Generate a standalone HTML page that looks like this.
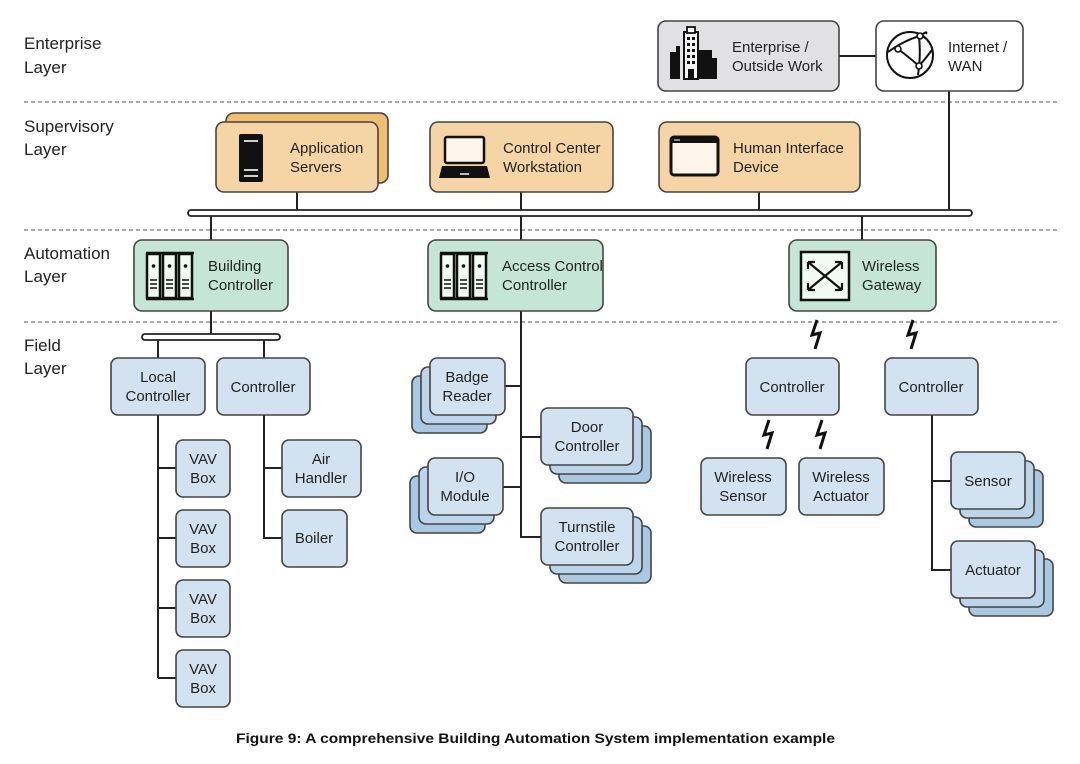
<!DOCTYPE html>
<html><head><meta charset="utf-8"><style>
html,body{margin:0;padding:0;background:#fff;}
svg{display:block;font-family:"Liberation Sans",Arial,sans-serif;}
</style></head><body>
<svg width="1080" height="764" viewBox="0 0 1080 764" xmlns="http://www.w3.org/2000/svg">
<defs>
<g id="rack">
  <g fill="#f2faf6" stroke="#111" stroke-width="2.5">
    <rect x="1" y="2" width="13" height="44"/>
    <rect x="17" y="2" width="13" height="44"/>
    <rect x="33" y="2" width="13" height="44"/>
  </g>
  <g stroke="#111" stroke-width="2.5"><line x1="0" y1="1" x2="48" y2="1"/><line x1="0" y1="47" x2="48" y2="47"/></g>
  <g fill="#111"><circle cx="7.5" cy="14" r="1.8"/><circle cx="23.5" cy="14" r="1.8"/><circle cx="39.5" cy="14" r="1.8"/></g>
  <g stroke="#111" stroke-width="1.5">
    <line x1="4" y1="28" x2="11" y2="28"/><line x1="4" y1="32" x2="11" y2="32"/><line x1="4" y1="36" x2="11" y2="36"/>
    <line x1="20" y1="28" x2="27" y2="28"/><line x1="20" y1="32" x2="27" y2="32"/><line x1="20" y1="36" x2="27" y2="36"/>
    <line x1="36" y1="28" x2="43" y2="28"/><line x1="36" y1="32" x2="43" y2="32"/><line x1="36" y1="36" x2="43" y2="36"/>
  </g>
</g>
<path id="bolt" d="M5 0 L0 15 L8 13 L3 29" fill="none" stroke="#111" stroke-width="3"/>
</defs>

<g font-size="17" fill="#222">
<text x="24" y="49">Enterprise</text><text x="24" y="73">Layer</text>
<text x="24" y="132">Supervisory</text><text x="24" y="155">Layer</text>
<text x="24" y="259">Automation</text><text x="24" y="282">Layer</text>
<text x="24" y="351">Field</text><text x="24" y="374">Layer</text>
</g>
<g stroke="#777" stroke-width="1.3" stroke-dasharray="4,3">
<line x1="24" y1="102" x2="1058" y2="102"/>
<line x1="24" y1="230" x2="1058" y2="230"/>
<line x1="24" y1="322" x2="1058" y2="322"/>
</g>

<g stroke="#222" stroke-width="2" fill="none">
<line x1="839" y1="56" x2="876" y2="56"/>
<line x1="949" y1="91" x2="949" y2="211"/>
<line x1="297" y1="192" x2="297" y2="211"/>
<line x1="521" y1="192" x2="521" y2="211"/>
<line x1="759" y1="192" x2="759" y2="211"/>
<line x1="211" y1="216" x2="211" y2="240"/>
<line x1="521" y1="216" x2="521" y2="240"/>
<line x1="862" y1="216" x2="862" y2="240"/>
<line x1="211" y1="311" x2="211" y2="335"/>
<line x1="158" y1="340" x2="158" y2="358"/>
<line x1="264" y1="340" x2="264" y2="358"/>
<path d="M158 415 V678 M158 468 H176 M158 538 H176 M158 608 H176 M158 678 H176"/>
<path d="M264 415 V538 H282 M264 468 H282"/>
<path d="M521 311 V537 H541 M505 386 H521 M521 437 H541 M503 487 H521"/>
<path d="M932 415 V570 H951 M932 481 H951"/>
</g>
<rect x="188" y="210" width="784" height="6" rx="3" fill="#fff" stroke="#222" stroke-width="1.8"/>
<rect x="142" y="334" width="138" height="6" rx="3" fill="#fff" stroke="#222" stroke-width="1.8"/>

<g stroke="#444" stroke-width="1.6">
<rect x="658" y="21" width="181" height="70" rx="8" fill="#e1e1e3"/>
<rect x="876" y="21" width="147" height="70" rx="8" fill="#fff"/>
<rect x="226" y="113" width="162" height="70" rx="8" fill="#f0c070"/>
<rect x="216" y="122" width="162" height="70" rx="8" fill="#f5d5a5"/>
<rect x="430" y="122" width="183" height="70" rx="8" fill="#f5d5a5"/>
<rect x="659" y="122" width="201" height="70" rx="8" fill="#f5d5a5"/>
<rect x="134" y="240" width="154" height="71" rx="8" fill="#c5e6d6"/>
<rect x="428" y="240" width="175" height="71" rx="8" fill="#c5e6d6"/>
<rect x="789" y="240" width="147" height="71" rx="8" fill="#c5e6d6"/>
<g fill="#d3e2f0">
<rect x="111" y="358" width="94" height="57" rx="7"/>
<rect x="217" y="358" width="93" height="57" rx="7"/>
<rect x="176" y="440" width="54" height="57" rx="7"/>
<rect x="176" y="510" width="54" height="57" rx="7"/>
<rect x="176" y="580" width="54" height="57" rx="7"/>
<rect x="176" y="650" width="54" height="57" rx="7"/>
<rect x="282" y="440" width="79" height="57" rx="7"/>
<rect x="282" y="510" width="65" height="57" rx="7"/>
</g>
<rect x="412" y="376" width="75" height="57" rx="7" fill="#a9c8e2"/>
<rect x="421" y="367" width="75" height="57" rx="7" fill="#bcd5ea"/>
<rect x="430" y="358" width="75" height="57" rx="7" fill="#d3e2f0"/>
<rect x="410" y="476" width="75" height="57" rx="7" fill="#a9c8e2"/>
<rect x="419" y="467" width="75" height="57" rx="7" fill="#bcd5ea"/>
<rect x="428" y="458" width="75" height="57" rx="7" fill="#d3e2f0"/>
<rect x="559" y="426" width="92" height="57" rx="7" fill="#a9c8e2"/>
<rect x="550" y="417" width="92" height="57" rx="7" fill="#bcd5ea"/>
<rect x="541" y="408" width="92" height="57" rx="7" fill="#d3e2f0"/>
<rect x="559" y="526" width="92" height="57" rx="7" fill="#a9c8e2"/>
<rect x="550" y="517" width="92" height="57" rx="7" fill="#bcd5ea"/>
<rect x="541" y="508" width="92" height="57" rx="7" fill="#d3e2f0"/>
<rect x="969" y="470" width="74" height="57" rx="7" fill="#a9c8e2"/>
<rect x="960" y="461" width="74" height="57" rx="7" fill="#bcd5ea"/>
<rect x="951" y="452" width="74" height="57" rx="7" fill="#d3e2f0"/>
<rect x="969" y="559" width="84" height="57" rx="7" fill="#a9c8e2"/>
<rect x="960" y="550" width="84" height="57" rx="7" fill="#bcd5ea"/>
<rect x="951" y="541" width="84" height="57" rx="7" fill="#d3e2f0"/>
<g fill="#d3e2f0">
<rect x="746" y="358" width="93" height="57" rx="7"/>
<rect x="885" y="358" width="93" height="57" rx="7"/>
<rect x="701" y="458" width="85" height="57" rx="7"/>
<rect x="799" y="458" width="85" height="57" rx="7"/>
</g>
</g>

<use href="#bolt" x="812" y="320"/>
<use href="#bolt" x="908" y="320"/>
<use href="#bolt" x="764" y="420"/>
<use href="#bolt" x="817" y="420"/>

<g fill="#111">
<rect x="670" y="52" width="10" height="27"/><rect x="676" y="46" width="4" height="8"/>
<rect x="698" y="50" width="14" height="29"/><rect x="712" y="58" width="5" height="21"/>
<rect x="684" y="32" width="14" height="47" fill="#f5f5f5" stroke="#111" stroke-width="2"/>
<rect x="687" y="27" width="8" height="6" fill="#f5f5f5" stroke="#111" stroke-width="1.8"/>
<g><rect x="687" y="37" width="3" height="3"/><rect x="692" y="37" width="3" height="3"/><rect x="687" y="43" width="3" height="3"/><rect x="692" y="43" width="3" height="3"/><rect x="687" y="49" width="3" height="3"/><rect x="692" y="49" width="3" height="3"/><rect x="687" y="55" width="3" height="3"/><rect x="692" y="55" width="3" height="3"/><rect x="687" y="61" width="3" height="3"/><rect x="692" y="61" width="3" height="3"/><rect x="688" y="69" width="6" height="10"/></g>
</g>
<g fill="none" stroke="#111" stroke-width="2">
<circle cx="910" cy="55" r="23"/>
<path d="M888 52 Q905 40 920 36 M919 36 Q921 55 918 75 M898 49 Q910 58 919 66 M919 66 Q926 58 932 50 M920 36 Q928 30 926 34"/>
</g>
<g fill="#fff" stroke="#111" stroke-width="1.6"><circle cx="920" cy="36" r="3"/><circle cx="898" cy="49" r="3"/><circle cx="919" cy="66" r="3"/></g>
<rect x="239" y="134" width="24" height="48" rx="2" fill="#111"/>
<g stroke="#fff" stroke-width="1.6"><line x1="244" y1="141" x2="258" y2="141"/><line x1="244" y1="170" x2="258" y2="170"/><line x1="244" y1="176" x2="258" y2="176"/></g>
<rect x="445" y="137" width="39" height="26" rx="2" fill="#fdf5ea" stroke="#111" stroke-width="2.5"/>
<path d="M442 166 H487 L490 178 H439 Z" fill="#111"/>
<line x1="460" y1="174" x2="469" y2="174" stroke="#fff" stroke-width="1.4"/>
<rect x="671" y="137" width="47" height="38" rx="3" fill="#fdf5ea" stroke="#111" stroke-width="3"/>
<rect x="671" y="137" width="47" height="6" fill="#111"/>
<line x1="674" y1="140" x2="680" y2="140" stroke="#fff" stroke-width="1"/>
<use href="#rack" x="146" y="252"/>
<use href="#rack" x="440" y="252"/>
<rect x="801" y="252" width="48" height="48" fill="#f2faf6" stroke="#111" stroke-width="2.5"/>
<g fill="none" stroke="#111" stroke-width="2.2">
<path d="M808 262 Q825 276 842 290 M842 262 Q825 276 808 290"/>
<path d="M808 262 h7 M808 262 v7 M842 262 h-7 M842 262 v7 M808 290 h7 M808 290 v-7 M842 290 h-7 M842 290 v-7"/>
</g>

<g font-size="15" fill="#222">
<text x="732" y="52">Enterprise /</text><text x="732" y="71">Outside Work</text>
<text x="948" y="52">Internet /</text><text x="948" y="71">WAN</text>
<text x="290" y="153">Application</text><text x="290" y="172">Servers</text>
<text x="503" y="153">Control Center</text><text x="503" y="172">Workstation</text>
<text x="733" y="153">Human Interface</text><text x="733" y="172">Device</text>
<text x="208" y="271">Building</text><text x="208" y="290">Controller</text>
<text x="502" y="271">Access Control</text><text x="502" y="290">Controller</text>
<text x="862" y="271">Wireless</text><text x="862" y="290">Gateway</text>
</g>
<g font-size="15" fill="#222" text-anchor="middle">
<text x="158" y="382">Local</text><text x="158" y="401">Controller</text>
<text x="263" y="392">Controller</text>
<text x="203" y="464">VAV</text><text x="203" y="483">Box</text>
<text x="203" y="534">VAV</text><text x="203" y="553">Box</text>
<text x="203" y="604">VAV</text><text x="203" y="623">Box</text>
<text x="203" y="674">VAV</text><text x="203" y="693">Box</text>
<text x="321" y="464">Air</text><text x="321" y="483">Handler</text>
<text x="314" y="543">Boiler</text>
<text x="467" y="382">Badge</text><text x="467" y="401">Reader</text>
<text x="465" y="482">I/O</text><text x="465" y="501">Module</text>
<text x="587" y="432">Door</text><text x="587" y="451">Controller</text>
<text x="587" y="532">Turnstile</text><text x="587" y="551">Controller</text>
<text x="792" y="392">Controller</text>
<text x="931" y="392">Controller</text>
<text x="743" y="482">Wireless</text><text x="743" y="501">Sensor</text>
<text x="841" y="482">Wireless</text><text x="841" y="501">Actuator</text>
<text x="988" y="486">Sensor</text>
<text x="993" y="575">Actuator</text>
</g>

<text x="236" y="743" font-size="13.5" font-weight="bold" fill="#111" textLength="599" lengthAdjust="spacingAndGlyphs">Figure 9: A comprehensive Building Automation System implementation example</text>
</svg>
</body></html>
